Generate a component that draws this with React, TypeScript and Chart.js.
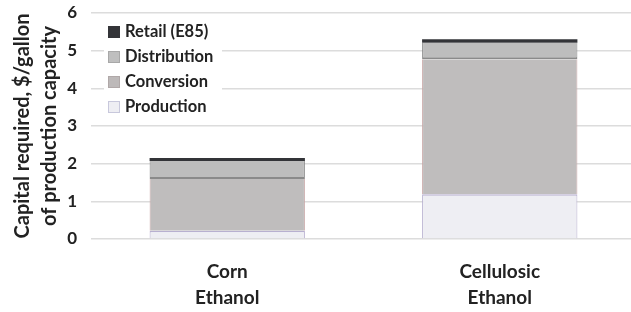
import React, { useEffect, useRef } from "react";
import { Chart, registerables } from "chart.js";

Chart.register(...registerables);

const categories: string[][] = [["Corn", "Ethanol"], ["Cellulosic", "Ethanol"]];
const production = [0.22, 1.19];
const conversion = [1.37, 3.58];
const distribution = [0.48, 0.44];
const retail = [0.08, 0.09];
const yTicks = [0, 1, 2, 3, 4, 5, 6];
const yTitle = ["Capital required, $/gallon", "of production capacity"];

const FONT = "Lato, 'Open Sans', sans-serif";

const legendItems = [
  { label: "Retail (E85)", fill: "#333438", stroke: "#333438" },
  { label: "Distribution", fill: "#bfbfbf", stroke: "#a8a8a8" },
  { label: "Conversion", fill: "#bdb9b9", stroke: "#b0a8a8" },
  { label: "Production", fill: "#eeeef3", stroke: "#c8c8dc" },
];

const insideLegend = {
  id: "insideLegend",
  afterDraw(chart: any) {
    const ctx = chart.ctx;
    const x0 = 108;
    const ys = [32, 57, 82, 107];
    ctx.save();
    ctx.fillStyle = "#ffffff";
    ctx.fillRect(x0 - 4, 19, 118, 101);
    ctx.font = `bold 16.5px ${FONT}`;
    ctx.textBaseline = "middle";
    legendItems.forEach((it, i) => {
      const y = ys[i];
      ctx.fillStyle = it.fill;
      ctx.fillRect(x0, y - 6, 12, 12);
      ctx.strokeStyle = it.stroke;
      ctx.lineWidth = 1;
      ctx.strokeRect(x0 + 0.5, y - 5.5, 11, 11);
      ctx.fillStyle = "#222222";
      ctx.fillText(it.label, x0 + 17, y);
    });
    ctx.restore();
  },
};

export default function App() {
  const ref = useRef<HTMLCanvasElement>(null);
  useEffect(() => {
    if (!ref.current) return;
    const chart = new Chart(ref.current, {
      type: "bar",
      data: {
        labels: categories,
        datasets: [
          { label: "Production", data: production, backgroundColor: "#eeeef3", borderColor: "#b8b0d0", borderWidth: { top: 1.5, left: 1, right: 1, bottom: 0 }, borderSkipped: false },
          { label: "Conversion", data: conversion, backgroundColor: "#bfbdbd", borderColor: "#c8a8a8", borderWidth: { top: 0, left: 1, right: 1, bottom: 0 }, borderSkipped: false },
          { label: "Distribution", data: distribution, backgroundColor: "#bdbdbd", borderColor: "#8a8a8a", borderWidth: { top: 0, left: 1, right: 1, bottom: 2 }, borderSkipped: false },
          { label: "Retail (E85)", data: retail, backgroundColor: "#333438", borderWidth: 0 },
        ] as any,
      },
      options: {
        animation: false,
        responsive: false,
        maintainAspectRatio: false,
        layout: { padding: { top: 13, right: 0, bottom: 0, left: 0 } },
        datasets: { bar: { barPercentage: 0.57, categoryPercentage: 1 } },
        plugins: { legend: { display: false }, tooltip: { enabled: false } },
        scales: {
          x: {
            stacked: true,
            afterFit(scale: any) {
              scale.height = 73;
            },
            grid: { display: false, drawTicks: false },
            border: { display: false },
            ticks: {
              color: "#222222",
              font: { family: FONT, size: 19, weight: "bold", lineHeight: 1.37 },
              padding: 20,
              maxRotation: 0,
            },
          },
          y: {
            stacked: true,
            min: 0,
            max: 6,
            afterBuildTicks(scale: any) {
              scale.ticks = yTicks.map((v) => ({ value: v }));
            },
            afterFit(scale: any) {
              scale.width = 91;
            },
            grid: { color: "#dcdcdc", lineWidth: 1.5, drawTicks: true, tickLength: 14, tickColor: "rgba(0,0,0,0)" },
            border: { display: false },
            ticks: {
              color: "#222222",
              font: { family: FONT, size: 17, weight: "bold" },
              padding: 0,
            },
            title: {
              display: true,
              text: yTitle,
              color: "#222222",
              font: { family: FONT, size: 20, weight: "bold", lineHeight: 1.35 },
              padding: { top: 9, bottom: 0 },
            },
          },
        },
      },
      plugins: [insideLegend],
    });
    return () => chart.destroy();
  }, []);
  return (
    <div style={{ position: "fixed", left: 0, top: 0, width: 631, height: 312, overflow: "hidden", background: "#fff" }}>
      <canvas ref={ref} width={636} height={312} style={{ display: "block" }} />
    </div>
  );
}
